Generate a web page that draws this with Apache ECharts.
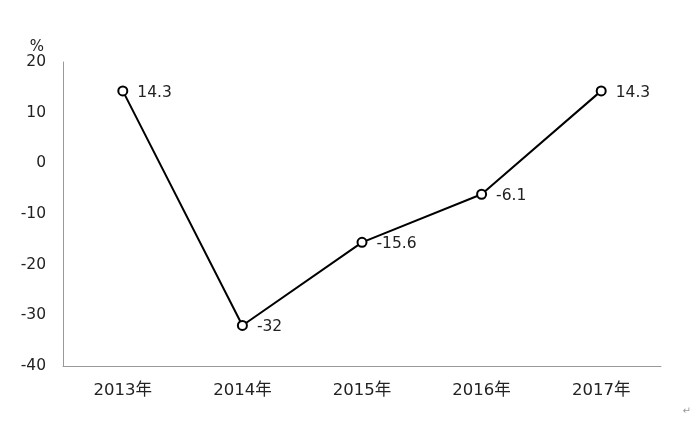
<!DOCTYPE html>
<html><head><meta charset="utf-8">
<script src="https://cdn.jsdelivr.net/npm/echarts@6/dist/echarts.min.js"></script>
<style>html,body{margin:0;padding:0;background:#fff}#c{width:694px;height:422px}</style>
</head><body><div id="c"></div>
<script>
const categories = ['2013年','2014年','2015年','2016年','2017年'];
const values = [14.3, -32, -15.6, -6.1, 14.3];
const yTicks = {min: -40, max: 20, interval: 10};
const unitLabel = '%';

const FONT = '"DejaVu Sans", "Noto Sans CJK SC", sans-serif';
const chart = echarts.init(document.getElementById('c'), null, {renderer: 'canvas'});
chart.setOption({
  backgroundColor: '#fff',
  animation: false,
  grid: {left: 63, right: 33, top: 62, bottom: 56, containLabel: false},
  xAxis: {
    type: 'category', data: categories, boundaryGap: true,
    axisLine: {onZero: false, lineStyle: {color: '#999', width: 1}},
    axisTick: {show: false},
    axisLabel: {color: '#222', fontSize: 16.5, fontFamily: FONT, margin: 16}
  },
  yAxis: {
    type: 'value', min: yTicks.min, max: yTicks.max, interval: yTicks.interval,
    name: unitLabel, nameLocation: 'end', nameGap: 7,
    nameTextStyle: {color: '#222', fontSize: 15, fontFamily: FONT, align: 'right', padding: [0, 19, 0, 0]},
    axisLine: {show: true, lineStyle: {color: '#999', width: 1}},
    axisTick: {show: false},
    splitLine: {show: false},
    axisLabel: {color: '#222', fontSize: 15.5, fontFamily: FONT, margin: 17}
  },
  series: [{
    type: 'line', data: values,
    symbol: 'circle', symbolSize: 9,
    itemStyle: {color: '#fff', borderColor: '#000', borderWidth: 2},
    lineStyle: {color: '#000', width: 2},
    label: {show: true, position: 'right', distance: 9, offset: [0, 2], color: '#222', fontSize: 15.5, fontFamily: FONT}
  }],
  graphic: [{type: 'text', right: 3, bottom: 6, style: {text: '↵', fill: '#999', fontSize: 10, fontFamily: FONT}}]
});
</script></body></html>
